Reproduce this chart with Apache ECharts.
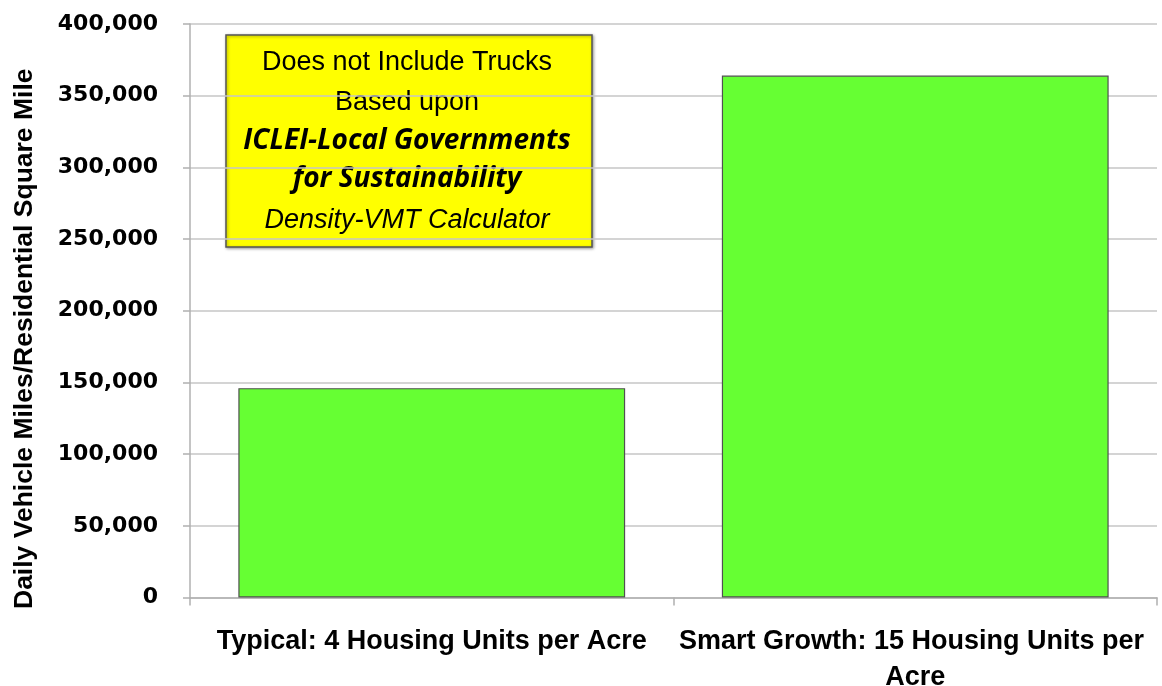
<!DOCTYPE html>
<html lang="en">
<head>
    <meta charset="UTF-8">
    <title>Daily Vehicle Miles per Residential Square Mile</title>
    <script src="https://cdn.jsdelivr.net/npm/echarts@6/dist/echarts.min.js"></script>
    <style>
        html, body { margin: 0; padding: 0; background: #fff; }
        #chart { width: 1162px; height: 686px; }
    </style>
</head>
<body>
    <div id="chart"></div>

    <script>
        // values
        const categories = ['Typical: 4 Housing Units per Acre', 'Smart Growth: 15 Housing Units per Acre'];
        const vmtValues = [146000, 364000];
        const yTicks = [0, 50000, 100000, 150000, 200000, 250000, 300000, 350000, 400000];
        const noteLines = ['Does not Include Trucks', 'Based upon', 'ICLEI-Local Governments', 'for Sustainability', 'Density-VMT Calculator'];

        var chartDom = document.getElementById('chart');
        var myChart = echarts.init(chartDom);

        var gridColor = '#c6c6c6';
        var lineStyles = [
            { font: 'normal 27px "Liberation Sans", Arial, sans-serif', y: 63 },
            { font: 'normal 27px "Liberation Sans", Arial, sans-serif', y: 103 },
            { font: 'italic bold 28px "Open Sans", Lato, sans-serif', y: 141 },
            { font: 'italic bold 28px "Open Sans", Lato, sans-serif', y: 179 },
            { font: 'italic 27px "Liberation Sans", Arial, sans-serif', y: 220 }
        ];

        var noteTexts = noteLines.map(function (t, i) {
            return {
                type: 'text',
                x: 407,
                y: lineStyles[i].y,
                style: {
                    text: t,
                    font: lineStyles[i].font,
                    fill: '#000',
                    align: 'center',
                    verticalAlign: 'middle'
                }
            };
        });

        var option = {
            animation: false,
            backgroundColor: '#fff',
            grid: {
                left: 190,
                right: 5,
                top: 24,
                bottom: 88.5,
                containLabel: false,
                outerBoundsMode: 'none'
            },
            xAxis: {
                type: 'category',
                data: categories,
                axisLine: { lineStyle: { color: '#b0b0b0', width: 1.5 } },
                axisTick: { show: true, length: 8, lineStyle: { color: '#b0b0b0', width: 1.5 } },
                axisLabel: {
                    interval: 0,
                    margin: 26,
                    width: 482,
                    overflow: 'break',
                    lineHeight: 36,
                    color: '#000',
                    fontFamily: '"Liberation Sans", Arial, sans-serif',
                    fontWeight: 'bold',
                    fontSize: 27
                }
            },
            yAxis: {
                type: 'value',
                min: yTicks[0],
                max: yTicks[yTicks.length - 1],
                interval: yTicks[1] - yTicks[0],
                name: 'Daily Vehicle Miles/Residential Square Mile',
                nameLocation: 'middle',
                nameGap: 152,
                nameTextStyle: {
                    color: '#000',
                    fontFamily: '"Liberation Sans", Arial, sans-serif',
                    fontWeight: 'bold',
                    fontSize: 26.5,
                    padding: [0, 56, 0, 0]
                },
                axisLine: { show: true, lineStyle: { color: '#b0b0b0', width: 1.5 } },
                axisTick: { show: true, length: 7, lineStyle: { color: '#b0b0b0', width: 1.5 } },
                splitLine: { show: true, lineStyle: { color: gridColor, width: 1.5 } },
                axisLabel: {
                    margin: 32,
                    color: '#000',
                    fontFamily: '"DejaVu Sans", sans-serif',
                    fontWeight: 'bold',
                    fontSize: 22,
                    formatter: function (v) { return v.toLocaleString('en-US'); }
                }
            },
            series: [{
                type: 'bar',
                data: vmtValues,
                barCategoryGap: '20%',
                itemStyle: {
                    color: '#66ff33',
                    borderColor: '#505050',
                    borderWidth: 1.2
                }
            }],
            graphic: [{
                type: 'group',
                children: [{
                    type: 'rect',
                    shape: { x: 226, y: 35, width: 366, height: 212 },
                    style: {
                        fill: '#ffff00',
                        stroke: '#555',
                        lineWidth: 1.5,
                        shadowBlur: 3,
                        shadowOffsetX: 1,
                        shadowOffsetY: 1,
                        shadowColor: 'rgba(0,0,0,0.35)'
                    }
                }].concat(noteTexts)
            }]
        };
        myChart.setOption(option);
    </script>
</body>
</html>
